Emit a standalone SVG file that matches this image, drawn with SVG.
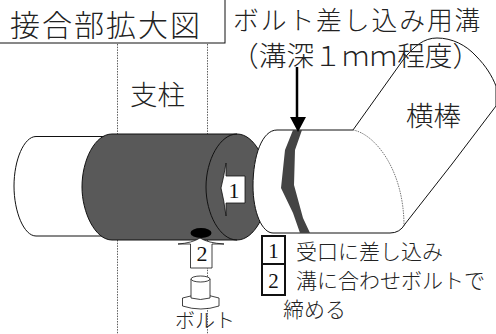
<svg xmlns="http://www.w3.org/2000/svg" width="496" height="334" viewBox="0 0 496 334">
<style>
text{font-family:"Noto Sans CJK JP","Liberation Serif",serif;fill:#222;font-weight:300}
text.n{font-family:"Liberation Serif",serif;fill:#111;font-weight:400;text-anchor:middle}
.d{fill:none;stroke:#333;stroke-width:.8;stroke-dasharray:1.5 1.2}
.l{stroke:#111;stroke-width:1}
.b{fill:#fff;stroke:#111;stroke-width:2}
.a{fill:#fff;stroke:#111;stroke-width:.8}
</style>
<rect width="496" height="334" fill="#fff"/>
<g id="post">
<path class="d" d="M117.500 44V134M207.500 44V134M117.500 240V334M207.500 240V334"/>
<text x="130" y="105" font-size="27.500">支柱</text>
</g>
<g id="receiver">
<path class="l" d="M112 136.500H36C24 136.500 14 160 14 186C14 212 24 236 36 236H112Z" fill="#fff"/>
<path class="l" d="M112 134H237C254 134 268 160 268 187C268 214 254 240 237 240H112C95 240 82 212 82 187C82 160 95 134 112 134Z" fill="#595959"/>
<path class="l" d="M237 134C220 134 206 160 206 187C206 214 220 240 237 240" fill="none"/>
<ellipse cx="201" cy="233" rx="10.500" ry="5" fill="#000"/>
</g>
<g id="bar">
<path class="l" d="M353 130L403 60C414 46 424 38 437 38C452 38 466 45 476 56C486 66 492 76 496 86V106L452 164L405 224Q400 233 390 233H273C262 233 253 212 253 186C253 156 262 130 277 130Z" fill="#fff"/>
<path d="M353 130C375 134 404 170 404 226" fill="none" stroke="#555" stroke-width=".8" stroke-dasharray="1.500 1"/>
<path d="M293 130H302L295 150L294 185L303 218L310 233H300L293 213L281 188L285 150Z" fill="#444"/>
</g>
<g id="title">
<rect x="-2" y="-2" width="227" height="45" fill="#fff" stroke="#111" stroke-width="1"/>
<text x="10" y="35.500" font-size="30" letter-spacing="2">接合部拡大図</text>
</g>
<g id="groove-label">
<text x="233" y="30" font-size="25.800" letter-spacing="1.900">ボルト差し込み用溝</text>
<text x="231" y="66" font-size="27.700">（溝深１ｍｍ程度）</text>
</g>
<text id="bar-label" x="406" y="126" font-size="27.500">横棒</text>
<g id="connectors">
<path d="M297 67V118" fill="none" stroke="#000" stroke-width="2.500"/>
<path d="M290 117H306L298 132Z" fill="#000"/>
</g>
<g id="arrow1">
<path class="a" d="M245 176V203H226V216Q224 200 221 188Q224 176 226 163V176Z"/>
<text class="n" x="234" y="198" font-size="22">1</text>
</g>
<g id="arrow2">
<path class="a" d="M190.500 268V244H178Q192 243 200 238Q208 243 224 244H212V268Z"/>
<text class="n" x="202" y="261" font-size="22">2</text>
</g>
<g id="bolt">
<path class="a" d="M182.500 298V306Q201 312 219 306V298Q201 292 182.500 298Z"/>
<path class="a" d="M191 279V298Q200.500 301 210 298V279"/>
<ellipse class="a" cx="200.500" cy="279" rx="9.500" ry="3"/>
<text x="175" y="328" font-size="20">ボルト</text>
</g>
<g id="legend">
<rect class="b" x="262" y="236" width="23" height="28"/>
<rect class="b" x="262" y="264" width="23" height="31"/>
<text class="n" x="273.500" y="258" font-size="21">1</text>
<text class="n" x="273.500" y="288" font-size="21">2</text>
<text x="296" y="259" font-size="21">受口に差し込み</text>
<text x="296" y="288" font-size="21">溝に合わせボルトで</text>
<text x="283" y="317" font-size="21">締める</text>
</g>
</svg>
